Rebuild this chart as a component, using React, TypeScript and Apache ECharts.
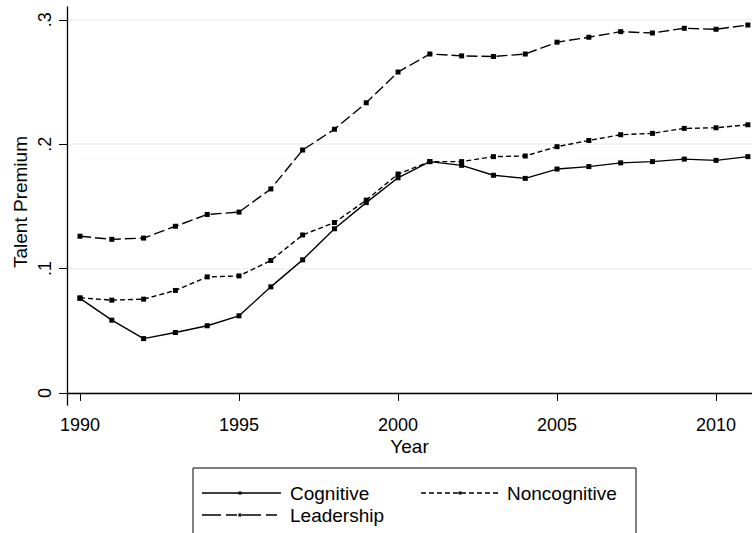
import React, { useEffect, useRef } from "react";
import * as echarts from "echarts";

const years = [1990, 1991, 1992, 1993, 1994, 1995, 1996, 1997, 1998, 1999, 2000, 2001, 2002, 2003, 2004, 2005, 2006, 2007, 2008, 2009, 2010, 2011];
const cognitive = [0.076, 0.0585, 0.0437, 0.0486, 0.054, 0.062, 0.0853, 0.107, 0.132, 0.153, 0.173, 0.186, 0.183, 0.175, 0.1725, 0.180, 0.182, 0.185, 0.186, 0.188, 0.187, 0.190];
const noncognitive = [0.0765, 0.0746, 0.0754, 0.0824, 0.0933, 0.0941, 0.1065, 0.127, 0.137, 0.155, 0.176, 0.186, 0.186, 0.190, 0.1905, 0.198, 0.203, 0.2076, 0.2087, 0.2127, 0.2132, 0.2156];
const leadership = [0.126, 0.1235, 0.1245, 0.134, 0.1435, 0.1454, 0.164, 0.1953, 0.212, 0.2333, 0.258, 0.2725, 0.271, 0.2705, 0.2725, 0.282, 0.286, 0.2905, 0.2894, 0.2932, 0.2924, 0.2958];
const xTicks = [1990, 1995, 2000, 2005, 2010];
const yTicks = [0, 0.1, 0.2, 0.3];
const yTickLabels = ["0", ".1", ".2", ".3"];

const FONT = "'Liberation Sans', Arial, sans-serif";
const FS_TICK = 18;
const FS = 19;

export default function App() {
  const ref = useRef<HTMLDivElement>(null);
  useEffect(() => {
    if (!ref.current) return;
    const chart = echarts.init(ref.current, null, { renderer: "svg" });
    const mk = (name: string, vals: number[], dash: any) => ({
      name,
      type: "line",
      data: years.map((y, i) => [y, vals[i]]),
      symbol: "rect",
      symbolSize: 5,
      itemStyle: { color: "#000" },
      lineStyle: { color: "#000", width: 1.4, type: dash },
      z: 3,
    });
    const legendY1 = 493;
    const legendY2 = 515;
    chart.setOption({
      animation: false,
      backgroundColor: "#fff",
      textStyle: { fontFamily: FONT },
      grid: { left: 67, right: 0, top: 7, bottom: 128, containLabel: false },
      xAxis: {
        type: "value",
        min: 1989.591,
        max: 2011.13,
        axisLine: { show: true, lineStyle: { color: "#000", width: 1.3 } },
        axisTick: { show: true, length: 8, lineStyle: { color: "#000", width: 1 }, customValues: xTicks },
        axisLabel: { color: "#000", fontSize: FS_TICK, fontFamily: FONT, margin: 11, customValues: xTicks, formatter: (v: number) => String(v) },
        splitLine: { show: false },
      },
      yAxis: {
        type: "value",
        min: -0.0097,
        max: 0.3103,
        axisLine: { show: true, lineStyle: { color: "#000", width: 1.3 } },
        axisTick: { show: true, length: 8, lineStyle: { color: "#000", width: 1 }, customValues: yTicks },
        axisLabel: {
          color: "#000",
          fontSize: FS_TICK,
          fontFamily: FONT,
          rotate: 90,
          margin: 13,
          customValues: yTicks,
          formatter: (v: number) => {
            const idx = yTicks.findIndex((t) => Math.abs(t - v) < 1e-6);
            return idx >= 0 ? yTickLabels[idx] : "";
          },
        },
        splitLine: { show: true, lineStyle: { color: "#eaf2f3", width: 1.5 } },
      },
      series: [
        mk("Cognitive", cognitive, "solid"),
        mk("Noncognitive", noncognitive, [5, 3]),
        mk("Leadership", leadership, [11, 4]),
      ],
      graphic: [
        { type: "text", x: 409.5, y: 446, style: { text: "Year", fill: "#000", font: `${FS}px ${FONT}`, align: "center", verticalAlign: "middle" } },
        { type: "text", x: 20, y: 202, rotation: Math.PI / 2, style: { text: "Talent Premium", fill: "#000", font: `${FS}px ${FONT}`, align: "center", verticalAlign: "middle" } },
        { type: "rect", shape: { x: 193, y: 468, width: 443, height: 90 }, style: { fill: "#fff", stroke: "#000", lineWidth: 1 } },
        { type: "line", shape: { x1: 202, y1: legendY1, x2: 281, y2: legendY1 }, style: { stroke: "#000", lineWidth: 1.4 } },
        { type: "rect", shape: { x: 238.5, y: legendY1 - 1.5, width: 3, height: 3 }, style: { fill: "#000" } },
        { type: "text", x: 290, y: legendY1, style: { text: "Cognitive", fill: "#000", font: `${FS}px ${FONT}`, verticalAlign: "middle" } },
        { type: "line", shape: { x1: 421, y1: legendY1, x2: 501, y2: legendY1 }, style: { stroke: "#000", lineWidth: 1.4, lineDash: [5, 3] } },
        { type: "rect", shape: { x: 458.5, y: legendY1 - 1.5, width: 3, height: 3 }, style: { fill: "#000" } },
        { type: "text", x: 507, y: legendY1, style: { text: "Noncognitive", fill: "#000", font: `${FS}px ${FONT}`, verticalAlign: "middle" } },
        { type: "line", shape: { x1: 202, y1: legendY2, x2: 281, y2: legendY2 }, style: { stroke: "#000", lineWidth: 1.4, lineDash: [19, 5, 11, 5] } },
        { type: "rect", shape: { x: 238.5, y: legendY2 - 1.5, width: 3, height: 3 }, style: { fill: "#000" } },
        { type: "text", x: 290, y: legendY2, style: { text: "Leadership", fill: "#000", font: `${FS}px ${FONT}`, verticalAlign: "middle" } },
      ],
    });
    return () => chart.dispose();
  }, []);
  return <div ref={ref} style={{ position: "fixed", left: 0, top: 0, width: 752, height: 533, background: "#fff" }} />;
}
